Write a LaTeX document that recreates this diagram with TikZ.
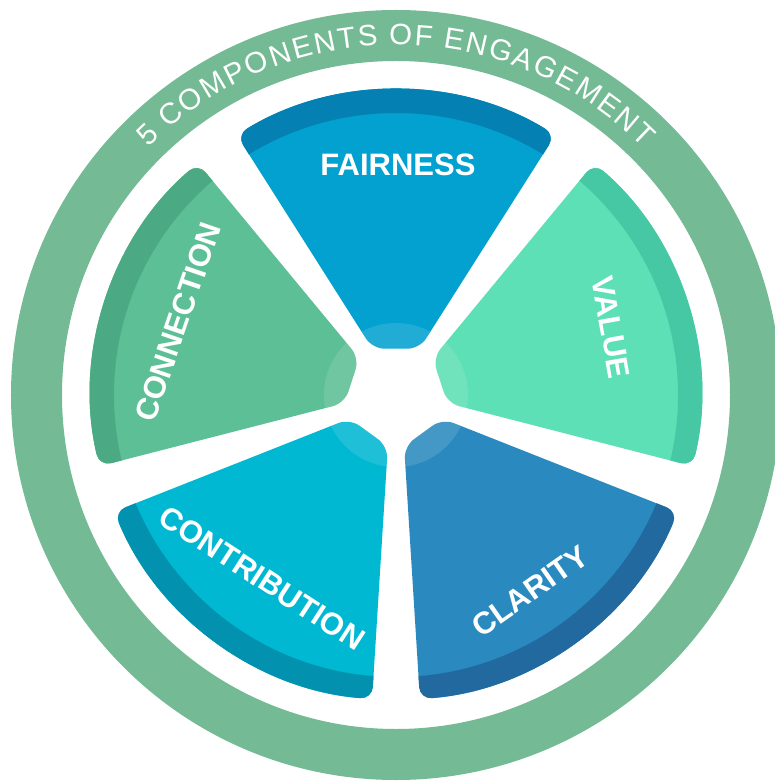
\documentclass[tikz,border=0pt]{standalone}
\usepackage{fontspec}
\setmainfont{Liberation Sans}
\usetikzlibrary{decorations.text}

% palette
\definecolor{ringgreen}{RGB}{116,187,149}
\definecolor{fairM}{RGB}{2,161,208}
\definecolor{fairD}{RGB}{4,128,178}
\definecolor{valM}{RGB}{93,224,181}
\definecolor{valD}{RGB}{70,200,164}
\definecolor{clarM}{RGB}{42,138,191}
\definecolor{clarD}{RGB}{34,105,160}
\definecolor{contM}{RGB}{0,184,210}
\definecolor{contD}{RGB}{2,146,176}
\definecolor{connM}{RGB}{93,191,149}
\definecolor{connD}{RGB}{75,170,131}

\newcommand{\ringfont}{\fontsize{29.5}{29.5}\selectfont}
\newcommand{\segfont}{\fontsize{31}{31}\bfseries\selectfont}

% outline of one wedge, given the angle of its axis
\newcommand{\wedgeoutline}[1]{({#1+27}:52) -- ({#1+31.5}:305)
  arc[start angle={#1+31.5}, end angle={#1-31.5}, radius=305]
  -- ({#1-27}:52) -- cycle}

% one wedge: main colour, darker rim, light hub
\newcommand{\drawwedge}[3]{%
  \begin{scope}
    \clip[rounded corners=12pt] \wedgeoutline{#1};
    \fill[#2] (0,0) circle[radius=330];
    \fill[#3, even odd rule] (0,0) circle[radius=330] (0,0) circle[radius=282];
    \fill[white, opacity=0.12] (0,0) circle[radius=72];
  \end{scope}}

\tikzset{
  seglabel/.style={text=white, font=\segfont, inner sep=0pt},
  outerring/.style={draw=ringgreen, line width=51pt}
}

\begin{document}
\begin{tikzpicture}[x=1pt, y=1pt]
  \clip (-396,-386) rectangle (379,395);
  \fill[white] (-396,-386) rectangle (379,395);

  % outer ring with its title, spread along the top of the ring
  \draw[outerring] (0,0) circle[radius=359.5];
  \path[decorate, decoration={text effects along path,
      text={5 COMPONENTS OF ENGAGEMENT},
      text effects/.cd, text along path, fit text to path,
      characters={text=white, font=\ringfont}}]
    (135:350) arc[start angle=135, end angle=45, radius=350];

  % the five wedges
  \drawwedge{90}{fairM}{fairD}
  \drawwedge{18}{valM}{valD}
  \drawwedge{306}{clarM}{clarD}
  \drawwedge{234}{contM}{contD}
  \drawwedge{162}{connM}{connD}

  % wedge labels
  \node[seglabel] (fairness) at (2,230) {FAIRNESS};
  \node[seglabel, rotate=-80] (value) at (215,68) {VALUE};
  \node[seglabel, rotate=35] (clarity) at (134,-196) {CLARITY};
  \node[seglabel, rotate=-33] (contribution) at (-134,-183) {CONTRIBUTION};
  \node[seglabel, rotate=71] (connection) at (-218,73) {CONNECTION};
\end{tikzpicture}
\end{document}
